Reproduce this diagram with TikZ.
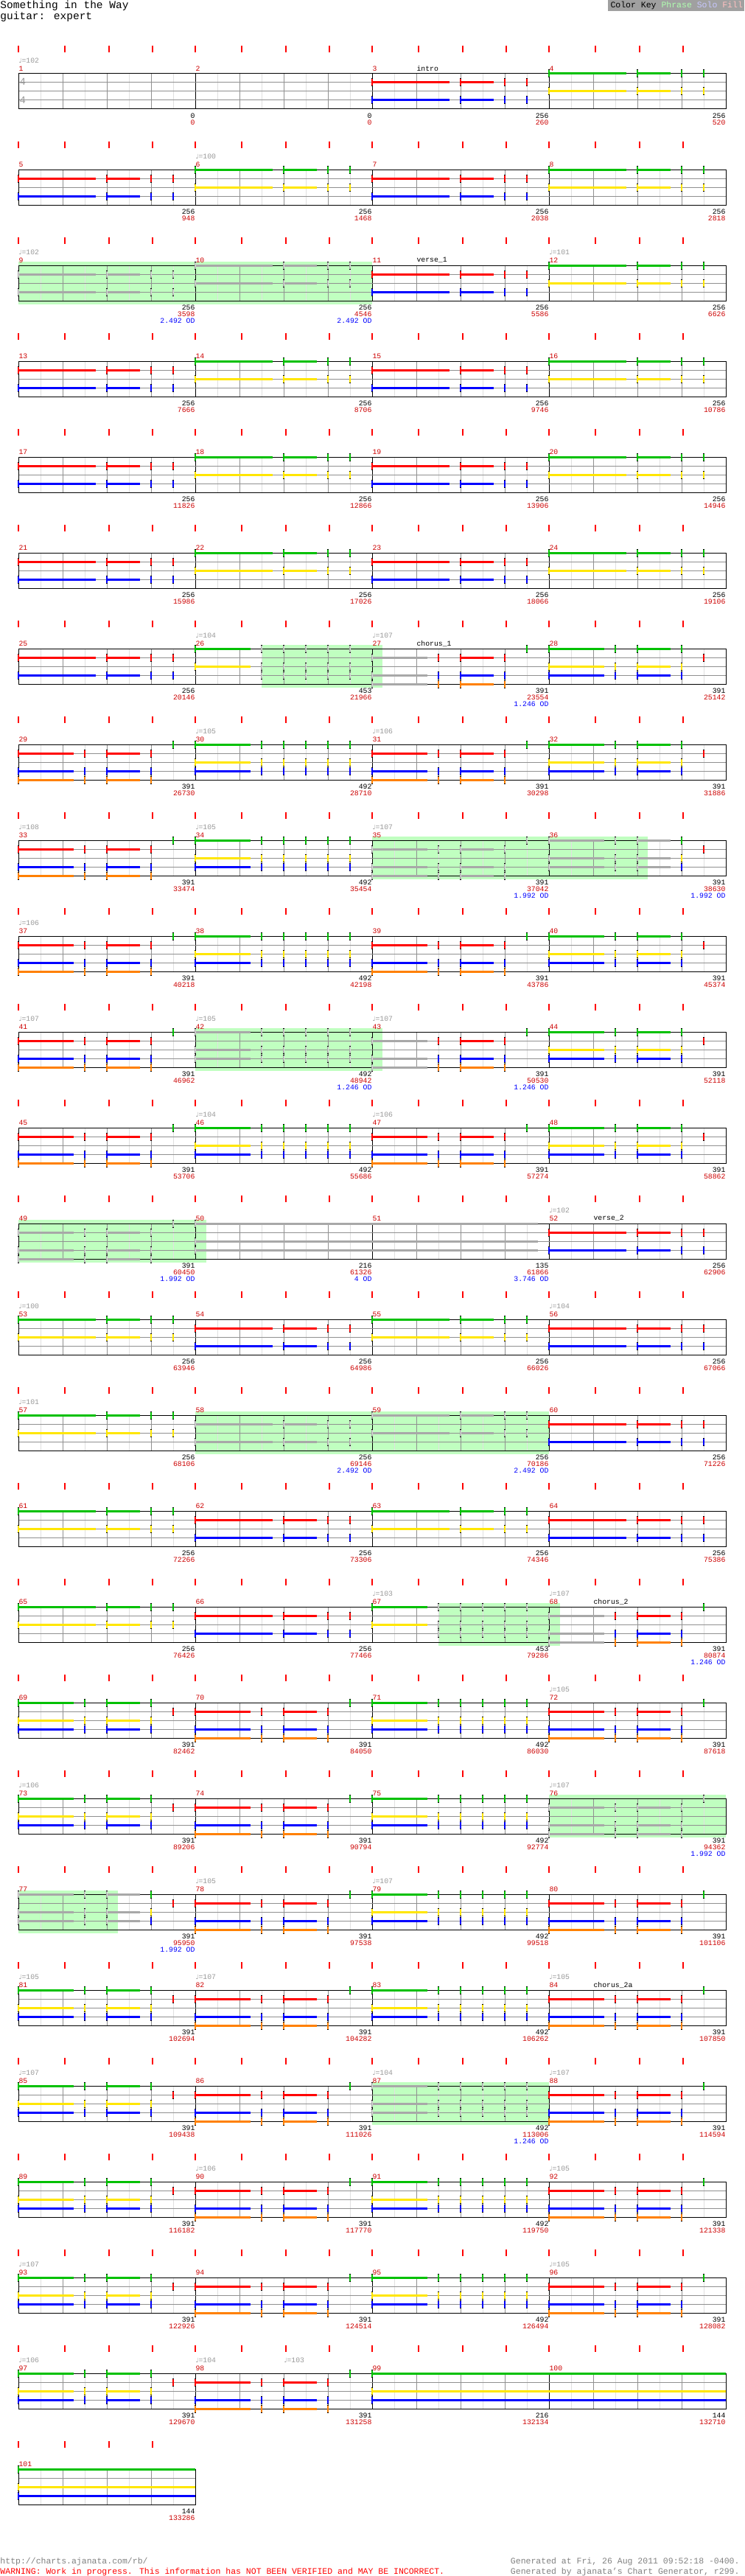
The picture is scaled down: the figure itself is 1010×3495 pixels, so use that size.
\documentclass[tikz,border=0pt]{standalone}
\usepackage{fontspec}
\setmainfont{Liberation Mono}
\newfontfamily\notefont{DejaVu Sans}

\definecolor{laneGc}{HTML}{00C000}
\definecolor{laneRc}{HTML}{FF0000}
\definecolor{laneYc}{HTML}{FFE600}
\definecolor{laneBc}{HTML}{0000FF}
\definecolor{laneOc}{HTML}{FF8000}
\definecolor{notegray}{HTML}{A8A8A8}
\definecolor{notelight}{HTML}{D8D8D8}
\colorlet{laneGg}{notegray}
\colorlet{laneRg}{notegray}
\colorlet{laneYg}{notegray}
\colorlet{laneBg}{notegray}
\colorlet{laneOg}{notegray}
\definecolor{phrasebg}{HTML}{C0FFC0}
\definecolor{tickred}{HTML}{FF0000}
\definecolor{numred}{HTML}{CC0000}
\definecolor{tempogray}{HTML}{999999}
\definecolor{gridlight}{HTML}{E0E0E0}
\definecolor{gridmid}{HTML}{909090}
\definecolor{keygray}{HTML}{A0A0A0}
\definecolor{keyphrase}{HTML}{B0FFB0}
\definecolor{keysolo}{HTML}{C8C8FF}
\definecolor{keyfill}{HTML}{FFC0C0}
\definecolor{footgray}{HTML}{808080}

\tikzset{
  numtxt/.style={font=\fontsize{9.8}{10}\selectfont, inner sep=0pt},
  foot/.style={font=\fontsize{11.5}{12}\selectfont, inner sep=0pt},
  sig/.style={font=\fontsize{14}{14}\selectfont, inner sep=0pt, anchor=west, tempogray}
}

% lane offsets below the staff top
\def\offG{0}\def\offR{12}\def\offY{24}\def\offB{36}\def\offO{48}
\def\graymode{g}

% one gem: x, staff top, lane, c/g, sustain length
\newcommand{\gem}[5]{%
  \pgfmathsetmacro\gy{#2+\csname off#3\endcsname}%
  \edef\gcol{lane#3#4}\edef\gmode{#4}%
  \ifdim #5pt>0pt \draw[line width=3pt, color=\gcol] (#1,\gy) -- ++(#5,0); \fi
  \draw[line width=2.6pt, black] (#1,\gy-5.5) -- (#1,\gy+5.5);
  \draw[line width=2.6pt, color=\gcol] (#1,\gy-4.5) -- (#1,\gy+4.5);
  \ifx\gmode\graymode \draw[line width=0.8pt, notelight] (#1,\gy-3) -- (#1,\gy+3); \fi
}
\newcommand{\head}[5]{\foreach \lane in {#3}{\gem{#1}{#2}{\lane}{#4}{#5}}}
\newcommand{\pA}[4]{\foreach \lane in {#3}{\gem{#1}{#2}{\lane}{#4}{105}\gem{#1+120}{#2}{\lane}{#4}{45}\gem{#1+180}{#2}{\lane}{#4}{0}\gem{#1+210}{#2}{\lane}{#4}{0}}}
\newcommand{\pCtail}[4]{\foreach \lane in {#3}{\gem{#1+90}{#2}{\lane}{#4}{0}\gem{#1+120}{#2}{\lane}{#4}{45}\gem{#1+180}{#2}{\lane}{#4}{0}}}
\newcommand{\pC}[4]{\head{#1}{#2}{#3}{#4}{75}\pCtail{#1}{#2}{#3}{#4}}
\newcommand{\pDtail}[4]{\foreach \lane in {#3}{\foreach \k in {90,120,...,210}{\gem{#1+\k}{#2}{\lane}{#4}{0}}}}
\newcommand{\pD}[4]{\head{#1}{#2}{#3}{#4}{75}\pDtail{#1}{#2}{#3}{#4}}

% staff: top, number of measures
\newcommand{\staff}[2]{%
  \pgfmathtruncatemacro\nl{8*#2-1}%
  \foreach \i in {1,...,\nl}{%
    \pgfmathtruncatemacro\im{mod(\i,8)}%
    \pgfmathtruncatemacro\iq{mod(\i,2)}%
    \ifnum\im=0 \draw[black] (25+30*\i,#1) -- ++(0,48);
    \else\ifnum\iq=0 \draw[gridmid] (25+30*\i,#1) -- ++(0,48);
    \else \draw[gridlight] (25+30*\i,#1) -- ++(0,48); \fi\fi
  }
  \foreach \o in {12,24,36}{\draw[gridmid] (25,#1+\o) -- (25+240*#2,#1+\o);}
  \draw[black] (25,#1) rectangle (25+240*#2,#1+48);
  \foreach \i in {1,...,#2}{\foreach \d in {0,62.5,123,182}{%
    \draw[tickred, line width=2pt] (25+240*\i-240+\d,#1-38) -- ++(0,9);}}
}
\newcommand{\phrase}[3]{\fill[phrasebg] (#1,#3-5) rectangle (#2,#3+53);}
\newcommand{\mnums}[3]{\foreach \i in {1,...,#3}{%
  \pgfmathtruncatemacro\mn{#2+\i-1}%
  \node[numtxt, numred, anchor=west] (num\mn) at (25+240*\i-240,#1-7) {\mn};}}
\newcommand{\tempo}[3]{\node[numtxt, tempogray, anchor=west] (tempo#2-#1) at (#1,#2-18) {{\notefont\fontsize{8.5}{9}\selectfont ♩}=#3};}
\newcommand{\sect}[3]{\node[numtxt, anchor=west] (sect#2) at (#1+60,#2-7) {#3};}
\newcommand{\measends}[2]{\foreach \a/\b [count=\i] in {#2}{%
  \node[numtxt, anchor=east] (len#1-\i) at (25+240*\i,#1+57) {\a};
  \node[numtxt, numred, anchor=east] (pos#1-\i) at (25+240*\i,#1+66) {\b};}}
\newcommand{\od}[3]{\node[numtxt, laneBc, anchor=east] (od#1-#2) at (25+240*#2,#1+75) {#3};}

\begin{document}
\begin{tikzpicture}[x=1pt,y=-1pt,line width=1pt]
\useasboundingbox (0,0) rectangle (1010,3495);

\node[anchor=west, inner sep=0pt, font=\fontsize{14.5}{15}\selectfont] (title) at (0,8) {Something in the Way};
\node[anchor=west, inner sep=0pt, font=\fontsize{14.5}{15}\selectfont] (part) at (0,23) {guitar: expert};
\fill[keygray] (825,0) rectangle (1010,15);
\node[foot, anchor=west] (key) at (828,7.5) {Color Key \textcolor{keyphrase}{Phrase} \textcolor{keysolo}{Solo} \textcolor{keyfill}{Fill}};

% row 1
\def\ty{100}
\staff{\ty}{4}\mnums{\ty}{1}{4}
\tempo{25}{\ty}{102}
\node[sig] (sigtop) at (26,110.5) {4};
\node[sig] (sigbot) at (26,136) {4};
\sect{505}{\ty}{intro}
\pA{505}{\ty}{R,B}{c}\pA{745}{\ty}{G,Y}{c}
\measends{\ty}{0/0,0/0,256/260,256/520}

% row 2
\def\ty{230}
\staff{\ty}{4}\mnums{\ty}{5}{4}
\tempo{265}{\ty}{100}
\pA{25}{\ty}{R,B}{c}\pA{265}{\ty}{G,Y}{c}\pA{505}{\ty}{R,B}{c}\pA{745}{\ty}{G,Y}{c}
\measends{\ty}{256/948,256/1468,256/2038,256/2818}

% row 3
\def\ty{360}
\phrase{25}{505}{\ty}
\staff{\ty}{4}\mnums{\ty}{9}{4}
\tempo{25}{\ty}{102}\tempo{745}{\ty}{101}
\sect{505}{\ty}{verse\_1}
\pA{25}{\ty}{R,B}{g}\pA{265}{\ty}{G,Y}{g}\pA{505}{\ty}{R,B}{c}\pA{745}{\ty}{G,Y}{c}
\measends{\ty}{256/3598,256/4546,256/5586,256/6626}
\od{\ty}{1}{2.492 OD}\od{\ty}{2}{2.492 OD}

% row 4
\def\ty{490}
\staff{\ty}{4}\mnums{\ty}{13}{4}
\pA{25}{\ty}{R,B}{c}\pA{265}{\ty}{G,Y}{c}\pA{505}{\ty}{R,B}{c}\pA{745}{\ty}{G,Y}{c}
\measends{\ty}{256/7666,256/8706,256/9746,256/10786}

% row 5
\def\ty{620}
\staff{\ty}{4}\mnums{\ty}{17}{4}
\pA{25}{\ty}{R,B}{c}\pA{265}{\ty}{G,Y}{c}\pA{505}{\ty}{R,B}{c}\pA{745}{\ty}{G,Y}{c}
\measends{\ty}{256/11826,256/12866,256/13906,256/14946}

% row 6
\def\ty{750}
\staff{\ty}{4}\mnums{\ty}{21}{4}
\pA{25}{\ty}{R,B}{c}\pA{265}{\ty}{G,Y}{c}\pA{505}{\ty}{R,B}{c}\pA{745}{\ty}{G,Y}{c}
\measends{\ty}{256/15986,256/17026,256/18066,256/19106}

% row 7
\def\ty{880}
\phrase{355}{519}{\ty}
\staff{\ty}{4}\mnums{\ty}{25}{4}
\tempo{265}{\ty}{104}\tempo{505}{\ty}{107}
\sect{505}{\ty}{chorus\_1}
\pA{25}{\ty}{R,B}{c}
\head{265}{\ty}{G,Y}{c}{75}\pDtail{265}{\ty}{G,Y,B}{g}
\head{505}{\ty}{R,B,O}{g}{75}\pCtail{505}{\ty}{R,B,O}{c}\gem{715}{\ty}{G}{c}{0}
\pC{745}{\ty}{G,Y,B}{c}\gem{955}{\ty}{R}{c}{0}
\measends{\ty}{256/20146,453/21966,391/23554,391/25142}
\od{\ty}{3}{1.246 OD}

% row 8
\def\ty{1010}
\staff{\ty}{4}\mnums{\ty}{29}{4}
\tempo{265}{\ty}{105}\tempo{505}{\ty}{106}
\pC{25}{\ty}{R,B,O}{c}\gem{235}{\ty}{G}{c}{0}
\pD{265}{\ty}{G,Y,B}{c}
\pC{505}{\ty}{R,B,O}{c}\gem{715}{\ty}{G}{c}{0}
\pC{745}{\ty}{G,Y,B}{c}\gem{955}{\ty}{R}{c}{0}
\measends{\ty}{391/26730,492/28710,391/30298,391/31886}

% row 9
\def\ty{1140}
\phrase{505}{879}{\ty}
\staff{\ty}{4}\mnums{\ty}{33}{4}
\tempo{25}{\ty}{108}\tempo{265}{\ty}{105}\tempo{505}{\ty}{107}
\pC{25}{\ty}{R,B,O}{c}\gem{235}{\ty}{G}{c}{0}
\pD{265}{\ty}{G,Y,B}{c}
\pC{505}{\ty}{R,B,O}{g}\gem{715}{\ty}{G}{g}{0}
\head{745}{\ty}{G,Y,B}{g}{75}\head{835}{\ty}{G,Y,B}{g}{0}\head{865}{\ty}{G,Y,B}{g}{45}
\head{925}{\ty}{G,Y,B}{c}{0}\gem{955}{\ty}{R}{c}{0}
\measends{\ty}{391/33474,492/35454,391/37042,391/38630}
\od{\ty}{3}{1.992 OD}\od{\ty}{4}{1.992 OD}

% row 10
\def\ty{1270}
\staff{\ty}{4}\mnums{\ty}{37}{4}
\tempo{25}{\ty}{106}
\pC{25}{\ty}{R,B,O}{c}\gem{235}{\ty}{G}{c}{0}
\pD{265}{\ty}{G,Y,B}{c}
\pC{505}{\ty}{R,B,O}{c}\gem{715}{\ty}{G}{c}{0}
\pC{745}{\ty}{G,Y,B}{c}\gem{955}{\ty}{R}{c}{0}
\measends{\ty}{391/40218,492/42198,391/43786,391/45374}

% row 11
\def\ty{1400}
\phrase{265}{519}{\ty}
\staff{\ty}{4}\mnums{\ty}{41}{4}
\tempo{25}{\ty}{107}\tempo{265}{\ty}{105}\tempo{505}{\ty}{107}
\pC{25}{\ty}{R,B,O}{c}\gem{235}{\ty}{G}{c}{0}
\pD{265}{\ty}{G,Y,B}{g}
\head{505}{\ty}{R,B,O}{g}{75}\pCtail{505}{\ty}{R,B,O}{c}\gem{715}{\ty}{G}{c}{0}
\pC{745}{\ty}{G,Y,B}{c}\gem{955}{\ty}{R}{c}{0}
\measends{\ty}{391/46962,492/48942,391/50530,391/52118}
\od{\ty}{2}{1.246 OD}\od{\ty}{3}{1.246 OD}

% row 12
\def\ty{1530}
\staff{\ty}{4}\mnums{\ty}{45}{4}
\tempo{265}{\ty}{104}\tempo{505}{\ty}{106}
\pC{25}{\ty}{R,B,O}{c}\gem{235}{\ty}{G}{c}{0}
\pD{265}{\ty}{G,Y,B}{c}
\pC{505}{\ty}{R,B,O}{c}\gem{715}{\ty}{G}{c}{0}
\pC{745}{\ty}{G,Y,B}{c}\gem{955}{\ty}{R}{c}{0}
\measends{\ty}{391/53706,492/55686,391/57274,391/58862}

% row 13
\def\ty{1660}
\phrase{25}{280}{\ty}
\staff{\ty}{4}\mnums{\ty}{49}{4}
\tempo{745}{\ty}{102}
\sect{745}{\ty}{verse\_2}
\pC{25}{\ty}{R,B,O}{g}\gem{235}{\ty}{G}{g}{0}
\head{265}{\ty}{G,Y,B}{g}{465}
\pA{745}{\ty}{R,B}{c}
\measends{\ty}{391/60450,216/61326,135/61866,256/62906}
\od{\ty}{1}{1.992 OD}\od{\ty}{2}{4 OD}\od{\ty}{3}{3.746 OD}

% row 14
\def\ty{1790}
\staff{\ty}{4}\mnums{\ty}{53}{4}
\tempo{25}{\ty}{100}\tempo{745}{\ty}{104}
\pA{25}{\ty}{G,Y}{c}\pA{265}{\ty}{R,B}{c}\pA{505}{\ty}{G,Y}{c}\pA{745}{\ty}{R,B}{c}
\measends{\ty}{256/63946,256/64986,256/66026,256/67066}

% row 15
\def\ty{1920}
\phrase{265}{745}{\ty}
\staff{\ty}{4}\mnums{\ty}{57}{4}
\tempo{25}{\ty}{101}
\pA{25}{\ty}{G,Y}{c}\pA{265}{\ty}{R,B}{g}\pA{505}{\ty}{G,Y}{g}\pA{745}{\ty}{R,B}{c}
\measends{\ty}{256/68106,256/69146,256/70186,256/71226}
\od{\ty}{2}{2.492 OD}\od{\ty}{3}{2.492 OD}

% row 16
\def\ty{2050}
\staff{\ty}{4}\mnums{\ty}{61}{4}
\pA{25}{\ty}{G,Y}{c}\pA{265}{\ty}{R,B}{c}\pA{505}{\ty}{G,Y}{c}\pA{745}{\ty}{R,B}{c}
\measends{\ty}{256/72266,256/73306,256/74346,256/75386}

% row 17
\def\ty{2180}
\phrase{595}{760}{\ty}
\staff{\ty}{4}\mnums{\ty}{65}{4}
\tempo{505}{\ty}{103}\tempo{745}{\ty}{107}
\sect{745}{\ty}{chorus\_2}
\pA{25}{\ty}{G,Y}{c}\pA{265}{\ty}{R,B}{c}
\head{505}{\ty}{G,Y}{c}{75}\pDtail{505}{\ty}{G,Y,B}{g}
\head{745}{\ty}{R,B,O}{g}{75}\pCtail{745}{\ty}{R,B,O}{c}\gem{955}{\ty}{G}{c}{0}
\measends{\ty}{256/76426,256/77466,453/79286,391/80874}
\od{\ty}{4}{1.246 OD}

% row 18
\def\ty{2310}
\staff{\ty}{4}\mnums{\ty}{69}{4}
\tempo{745}{\ty}{105}
\pC{25}{\ty}{G,Y,B}{c}\gem{235}{\ty}{R}{c}{0}
\pC{265}{\ty}{R,B,O}{c}\gem{475}{\ty}{G}{c}{0}
\pD{505}{\ty}{G,Y,B}{c}
\pC{745}{\ty}{R,B,O}{c}\gem{955}{\ty}{G}{c}{0}
\measends{\ty}{391/82462,391/84050,492/86030,391/87618}

% row 19
\def\ty{2440}
\phrase{745}{985}{\ty}
\staff{\ty}{4}\mnums{\ty}{73}{4}
\tempo{25}{\ty}{106}\tempo{745}{\ty}{107}
\pC{25}{\ty}{G,Y,B}{c}\gem{235}{\ty}{R}{c}{0}
\pC{265}{\ty}{R,B,O}{c}\gem{475}{\ty}{G}{c}{0}
\pD{505}{\ty}{G,Y,B}{c}
\pC{745}{\ty}{R,B,O}{g}\gem{955}{\ty}{G}{g}{0}
\measends{\ty}{391/89206,391/90794,492/92774,391/94362}
\od{\ty}{4}{1.992 OD}

% row 20
\def\ty{2570}
\phrase{25}{160}{\ty}
\staff{\ty}{4}\mnums{\ty}{77}{4}
\tempo{265}{\ty}{105}\tempo{505}{\ty}{107}
\head{25}{\ty}{G,Y,B}{g}{75}\head{115}{\ty}{G,Y,B}{g}{0}\head{145}{\ty}{G,Y,B}{g}{45}
\head{205}{\ty}{G,Y,B}{c}{0}\gem{235}{\ty}{R}{c}{0}
\pC{265}{\ty}{R,B,O}{c}\gem{475}{\ty}{G}{c}{0}
\pD{505}{\ty}{G,Y,B}{c}
\pC{745}{\ty}{R,B,O}{c}\gem{955}{\ty}{G}{c}{0}
\measends{\ty}{391/95950,391/97538,492/99518,391/101106}
\od{\ty}{1}{1.992 OD}

% row 21
\def\ty{2700}
\staff{\ty}{4}\mnums{\ty}{81}{4}
\tempo{25}{\ty}{105}\tempo{265}{\ty}{107}\tempo{745}{\ty}{105}
\sect{745}{\ty}{chorus\_2a}
\pC{25}{\ty}{G,Y,B}{c}\gem{235}{\ty}{R}{c}{0}
\pC{265}{\ty}{R,B,O}{c}\gem{475}{\ty}{G}{c}{0}
\pD{505}{\ty}{G,Y,B}{c}
\pC{745}{\ty}{R,B,O}{c}\gem{955}{\ty}{G}{c}{0}
\measends{\ty}{391/102694,391/104282,492/106262,391/107850}

% row 22
\def\ty{2830}
\phrase{505}{745}{\ty}
\staff{\ty}{4}\mnums{\ty}{85}{4}
\tempo{25}{\ty}{107}\tempo{505}{\ty}{104}\tempo{745}{\ty}{107}
\pC{25}{\ty}{G,Y,B}{c}\gem{235}{\ty}{R}{c}{0}
\pC{265}{\ty}{R,B,O}{c}\gem{475}{\ty}{G}{c}{0}
\pD{505}{\ty}{G,Y,B}{g}
\pC{745}{\ty}{R,B,O}{c}\gem{955}{\ty}{G}{c}{0}
\measends{\ty}{391/109438,391/111026,492/113006,391/114594}
\od{\ty}{3}{1.246 OD}

% row 23
\def\ty{2960}
\staff{\ty}{4}\mnums{\ty}{89}{4}
\tempo{265}{\ty}{106}\tempo{745}{\ty}{105}
\pC{25}{\ty}{G,Y,B}{c}\gem{235}{\ty}{R}{c}{0}
\pC{265}{\ty}{R,B,O}{c}\gem{475}{\ty}{G}{c}{0}
\pD{505}{\ty}{G,Y,B}{c}
\pC{745}{\ty}{R,B,O}{c}\gem{955}{\ty}{G}{c}{0}
\measends{\ty}{391/116182,391/117770,492/119750,391/121338}

% row 24
\def\ty{3090}
\staff{\ty}{4}\mnums{\ty}{93}{4}
\tempo{25}{\ty}{107}\tempo{745}{\ty}{105}
\pC{25}{\ty}{G,Y,B}{c}\gem{235}{\ty}{R}{c}{0}
\pC{265}{\ty}{R,B,O}{c}\gem{475}{\ty}{G}{c}{0}
\pD{505}{\ty}{G,Y,B}{c}
\pC{745}{\ty}{R,B,O}{c}\gem{955}{\ty}{G}{c}{0}
\measends{\ty}{391/122926,391/124514,492/126494,391/128082}

% row 25
\def\ty{3220}
\staff{\ty}{4}\mnums{\ty}{97}{4}
\tempo{25}{\ty}{106}\tempo{265}{\ty}{104}\tempo{385}{\ty}{103}
\pC{25}{\ty}{G,Y,B}{c}\gem{235}{\ty}{R}{c}{0}
\pC{265}{\ty}{R,B,O}{c}\gem{475}{\ty}{G}{c}{0}
\head{505}{\ty}{G,Y,B}{c}{480}
\measends{\ty}{391/129670,391/131258,216/132134,144/132710}

% row 26
\def\ty{3350}
\staff{\ty}{1}\mnums{\ty}{101}{1}
\head{25}{\ty}{G,Y,B}{c}{240}
\measends{\ty}{144/133286}

\node[foot, footgray, anchor=west] (url) at (0,3475) {http://charts.ajanata.com/rb/};
\node[foot, tickred, anchor=west] (warn) at (0,3489) {WARNING: Work in progress. This information has NOT BEEN VERIFIED and MAY BE INCORRECT.};
\node[foot, footgray, anchor=east] (gen1) at (1004,3475) {Generated at Fri, 26 Aug 2011 09:52:18 -0400.};
\node[foot, footgray, anchor=east] (gen2) at (1004,3489) {Generated by ajanata's Chart Generator, r299.};
\end{tikzpicture}
\end{document}
